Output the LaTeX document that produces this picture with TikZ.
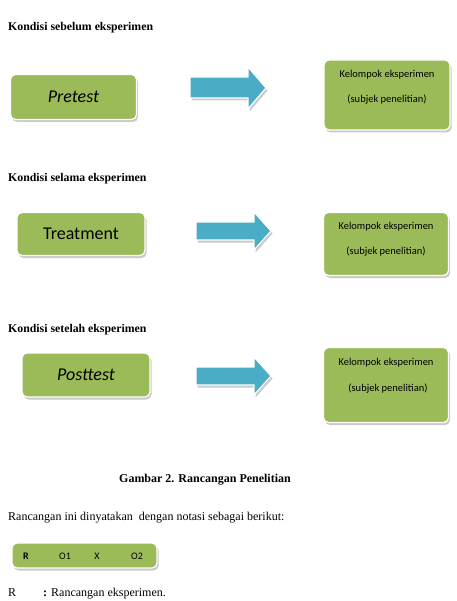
\documentclass[tikz,border=0pt]{standalone}
\usepackage{fontspec}
\setmainfont{Liberation Serif}
\newfontfamily\calib{Carlito}
\usetikzlibrary{shadows}
\definecolor{boxgreen}{HTML}{9BBB59}
\definecolor{arrowblue}{HTML}{4BACC6}
\tikzset{
  gbox/.style={rectangle, rounded corners=5pt, fill=boxgreen, draw=white, line width=1.2pt,
    drop shadow={shadow xshift=1.5pt, shadow yshift=-2.5pt, fill=black!35, opacity=0.6},
    inner sep=0pt},
  barrow/.style={fill=arrowblue, draw=white, line width=1.2pt, line join=miter,
    drop shadow={shadow xshift=1.5pt, shadow yshift=-2.5pt, fill=black!35, opacity=0.6}},
  heading/.style={anchor=base west, inner sep=0pt, font=\fontsize{11.8}{13}\selectfont\bfseries},
  bodytext/.style={anchor=base west, inner sep=0pt, font=\fontsize{12}{14}\selectfont},
  bigtext/.style={font=\calib\fontsize{18}{20}\selectfont},
  smalltext/.style={font=\calib\fontsize{10.5}{12}\selectfont, inner sep=0pt},
  notetext/.style={font=\calib\fontsize{10}{11}\selectfont, inner sep=0pt}
}
\begin{document}
\begin{tikzpicture}[x=1pt,y=-1pt]
\useasboundingbox[fill=white] (0,0) rectangle (456,601);

% Section 1
\node[heading] (h1) at (8,31) {Kondisi sebelum eksperimen};
\node[gbox, minimum width=126pt, minimum height=45pt] (pre) at (73.5,97) {};
\node[bigtext] (pret) at (pre.center) {\itshape Pretest};
\path[barrow] (190,77) -- (248,77) -- (248,67) -- (266,88) -- (248,109) -- (248,98) -- (190,98) -- cycle;
\node[gbox, minimum width=126pt, minimum height=70pt] (k1) at (387,95) {};
\node[smalltext] (k1a) at (387,75) {Kelompok eksperimen};
\node[smalltext] (k1b) at (387,100) {(subjek penelitian)};

% Section 2
\node[heading] (h2) at (8,182) {Kondisi selama eksperimen};
\node[gbox, minimum width=128pt, minimum height=43pt] (tr) at (81,234) {};
\node[bigtext] (trt) at (tr.center) {Treatment};
\path[barrow] (196,222) -- (254,222) -- (254,212) -- (271,231) -- (254,250) -- (254,240) -- (196,240) -- cycle;
\node[gbox, minimum width=125pt, minimum height=63pt] (k2) at (386,244) {};
\node[smalltext] (k2a) at (386,227) {Kelompok eksperimen};
\node[smalltext] (k2b) at (386,252) {(subjek penelitian)};

% Section 3
\node[heading] (h3) at (8,332) {Kondisi setelah eksperimen};
\node[gbox, minimum width=128pt, minimum height=44pt] (po) at (86,375) {};
\node[bigtext] (pot) at (po.center) {\itshape Posttest};
\path[barrow] (196,367) -- (254,367) -- (254,357) -- (271,376) -- (254,395) -- (254,385) -- (196,385) -- cycle;
\node[gbox, minimum width=125pt, minimum height=75pt] (k3) at (386,385) {};
\node[smalltext] (k3a) at (386,363) {Kelompok eksperimen};
\node[smalltext] (k3b) at (388,389) {(subjek penelitian)};

% Caption and notation
\node[anchor=base, inner sep=0pt, font=\fontsize{12}{14}\selectfont\bfseries] (cap) at (205,482) {Gambar 2. Rancangan Penelitian};
\node[bodytext] (body) at (8,520) {Rancangan ini dinyatakan\ \ dengan notasi sebagai berikut:};
\node[gbox, minimum width=145pt, minimum height=25pt] (nb) at (84.5,555.5) {};
\node[notetext] (nR) at (26,556) {\bfseries R};
\node[notetext] (nO1) at (65,556) {O1};
\node[notetext] (nX) at (97,556) {X};
\node[notetext] (nO2) at (137,556) {O2};
\node[bodytext] (rl) at (8,596) {R};
\node[bodytext] (rd) at (43,596) {\textbf{:} Rancangan eksperimen.};
\end{tikzpicture}
\end{document}
